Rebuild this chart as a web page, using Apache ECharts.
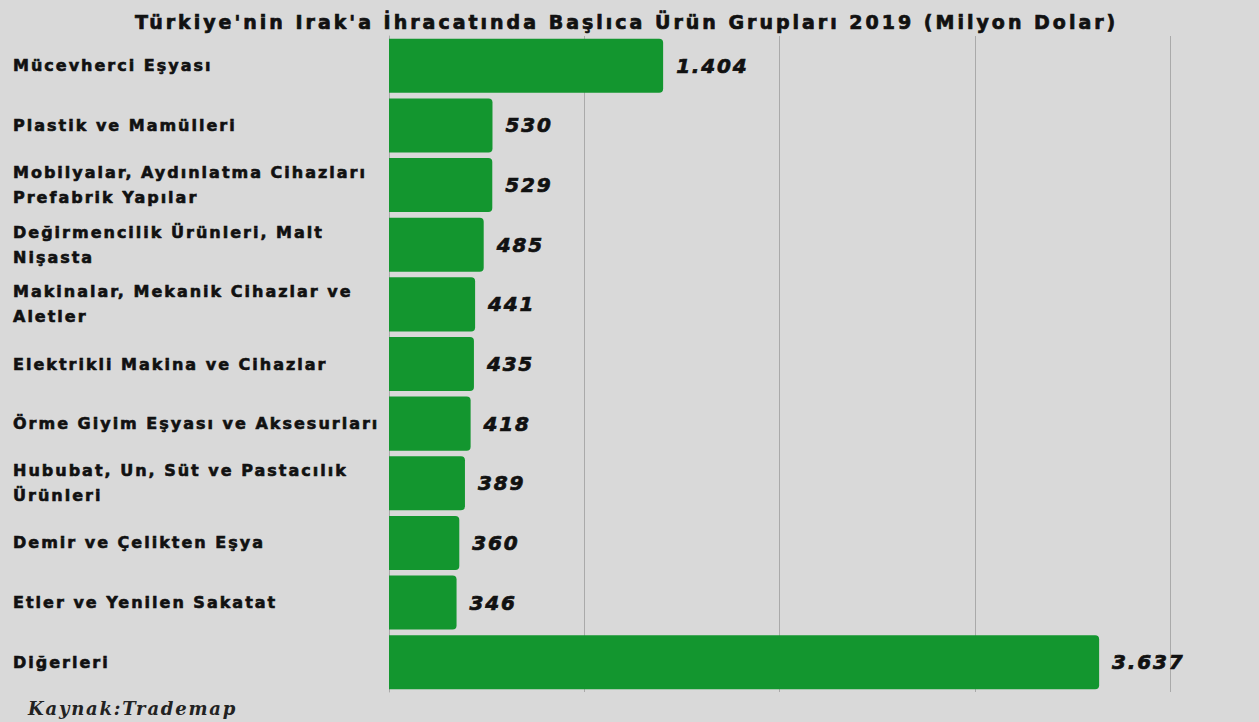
<!DOCTYPE html>
<html>
<head>
<meta charset="utf-8">
<script src="https://cdn.jsdelivr.net/npm/echarts@6/dist/echarts.min.js"></script>
<style>
  html, body { margin: 0; padding: 0; background: #d9d9d9; }
  #chart { width: 1259px; height: 722px; }
</style>
</head>
<body>
<div id="chart"></div>
<script>
// kategoriler (yukaridan asagiya)
const categories = [
  'Mücevherci Eşyası',
  'Plastik ve Mamülleri',
  'Mobilyalar, Aydınlatma Cihazları\nPrefabrik Yapılar',
  'Değirmencilik Ürünleri, Malt\nNişasta',
  'Makinalar, Mekanik Cihazlar ve\nAletler',
  'Elektrikli Makina ve Cihazlar',
  'Örme Giyim Eşyası ve Aksesurları',
  'Hububat, Un, Süt ve Pastacılık\nÜrünleri',
  'Demir ve Çelikten Eşya',
  'Etler ve Yenilen Sakatat',
  'Diğerleri'
]
// ihracat, milyon dolar
const values = [1404, 530, 529, 485, 441, 435, 418, 389, 360, 346, 3637]
const titleText = "Türkiye'nin Irak'a İhracatında Başlıca Ürün Grupları 2019 (Milyon Dolar)"
const sourceText = 'Kaynak:Trademap'

// 1404 -> 1.404
function fmt(v) {
  return String(v).replace(/\B(?=(\d{3})+(?!\d))/g, '.')
}

const labelStyle = {
  align: 'left',
  fontFamily: 'DejaVu Sans',
  fontWeight: 'bold',
  fontSize: 16,
  lineHeight: 25,
  color: '#111',
  textBorderColor: '#111',
  textBorderWidth: 0.6
}
// iki satirli etiketler biraz asagida duruyor
const yData = categories.map(c => ({
  value: c,
  textStyle: Object.assign({}, labelStyle, {padding: [c.indexOf('\n') >= 0 ? 10 : 5, 0, 0, 0]})
}))

const chart = echarts.init(document.getElementById('chart'), null, {renderer: 'svg'})
const option = {
  backgroundColor: '#d9d9d9',
  animation: false,
  title: [
    {
      text: titleText,
      left: 130,
      top: 7,
      textStyle: {fontFamily: 'DejaVu Sans', fontWeight: 'bold', fontSize: 19, color: '#111',
        textBorderColor: '#111', textBorderWidth: 0.7}
    },
    {
      text: sourceText,
      left: 23,
      top: 694,
      textStyle: {fontFamily: 'DejaVu Serif', fontStyle: 'italic', fontWeight: 'bold', fontSize: 18, color: '#222'}
    }
  ],
  grid: {left: 389, right: 89, top: 36, bottom: 30, outerBoundsMode: 'none'},
  xAxis: {
    type: 'value',
    min: 0,
    max: 4000,
    interval: 1000,
    axisLabel: {show: false},
    axisLine: {show: false},
    axisTick: {show: false},
    splitLine: {lineStyle: {color: '#aaaaaa', width: 1}}
  },
  yAxis: {
    type: 'category',
    inverse: true,
    data: yData,
    axisTick: {show: false},
    axisLine: {lineStyle: {color: '#aaaaaa'}},
    axisLabel: Object.assign({margin: 376}, labelStyle)
  },
  series: [
    {
      type: 'bar',
      data: values,
      barCategoryGap: '9.4%',
      itemStyle: {color: '#13962f', borderRadius: [0, 4, 4, 0]},
      label: {
        show: true,
        position: 'right',
        distance: 13,
        formatter: p => fmt(p.value),
        fontFamily: 'DejaVu Sans',
        fontWeight: 'bold',
        fontStyle: 'italic',
        fontSize: 20,
        color: '#111',
        textBorderColor: '#111',
        textBorderWidth: 0.7
      }
    }
  ]
}
chart.setOption(option)

// harf araligi (orijinaldeki genis yazi tipine yaklasmak icin)
function spaceLetters() {
  document.querySelectorAll('#chart text').forEach(t => {
    const s = t.textContent
    let ls = '2px'
    if (s === titleText) ls = '3px'
    else if (s === sourceText) ls = '1.8px'
    else if (/^[\d.]+$/.test(s)) ls = '1.8px'
    t.style.letterSpacing = ls
  })
}
spaceLetters()
chart.on('finished', spaceLetters)
</script>
</body>
</html>
